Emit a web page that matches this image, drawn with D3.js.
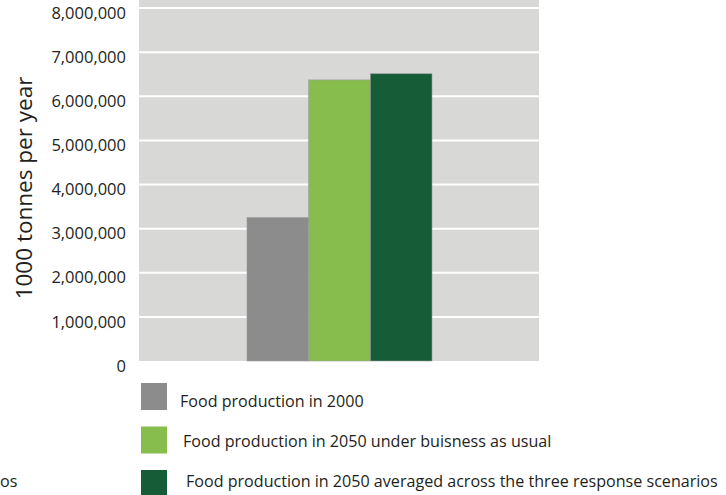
<!DOCTYPE html>
<html>
<head>
<meta charset="utf-8">
<script src="https://cdn.jsdelivr.net/npm/d3@7"></script>
<style>
  html, body { margin: 0; padding: 0; background: #fff; }
  svg { display: block; }
  text { font-family: "Open Sans", sans-serif; fill: #231f20; }
</style>
</head>
<body>
<svg id="chart" width="726" height="495"></svg>
<script>
// Food production series (1000 tonnes per year)
const seriesNames = [
  "Food production in 2000",
  "Food production in 2050 under buisness as usual",
  "Food production in 2050 averaged across the three response scenarios"
];
const seriesValues = [3250000, 6370000, 6510000];
const seriesColors = ["#8c8c8c", "#87bd4c", "#155c37"];
const yTicks = [0, 1000000, 2000000, 3000000, 4000000, 5000000, 6000000, 7000000, 8000000];
const yTitle = "1000 tonnes per year";

const svg = d3.select("#chart");
const plot = { left: 139, right: 539, top: 9, bottom: 361 };

const y = d3.scaleLinear().domain([0, 8000000]).range([plot.bottom, plot.top - 1]);
const x = d3.scaleBand().domain(seriesNames).range([247, 432]).padding(0);

// grey plot panel
svg.append("rect")
  .attr("x", plot.left).attr("y", 0)
  .attr("width", plot.right - plot.left).attr("height", plot.bottom)
  .attr("fill", "#d8d8d7");

// white horizontal gridlines
svg.append("g").selectAll("line")
  .data(yTicks.slice(1))
  .join("line")
  .attr("x1", plot.left).attr("x2", plot.right)
  .attr("y1", d => y(d)).attr("y2", d => y(d))
  .attr("stroke", "#ffffff").attr("stroke-width", 2);

// bars
svg.append("g").selectAll("rect")
  .data(seriesNames)
  .join("rect")
  .attr("x", d => x(d))
  .attr("width", x.bandwidth())
  .attr("y", (d, i) => y(seriesValues[i]))
  .attr("height", (d, i) => plot.bottom - y(seriesValues[i]))
  .attr("fill", (d, i) => seriesColors[i])
  .attr("stroke", "#9a9a9a")
  .attr("stroke-width", 0.6);

// y axis labels
const yAxis = d3.axisLeft(y)
  .tickValues(yTicks)
  .tickSize(0)
  .tickPadding(0)
  .tickFormat(d3.format(","));
const gy = svg.append("g")
  .attr("transform", `translate(${plot.left - 13},0)`)
  .call(yAxis);
gy.select(".domain").remove();
gy.selectAll(".tick text")
  .attr("dy", "0.62em")
  .style("font-family", "'Open Sans', sans-serif")
  .style("font-size", "16.5px")
  .attr("fill", "#231f20");

// y axis title
svg.append("text")
  .attr("transform", "translate(32,188) rotate(-90)")
  .attr("text-anchor", "middle")
  .style("font-size", "22.5px")
  .text(yTitle);

// legend: swatches and their captions
const legend = svg.append("g");
legend.selectAll("rect")
  .data(seriesNames)
  .join("rect")
  .attr("x", 141)
  .attr("y", (d, i) => 383 + i * 43.5)
  .attr("width", 26).attr("height", 27)
  .attr("fill", (d, i) => seriesColors[i]);
legend.selectAll("text")
  .data(seriesNames)
  .join("text")
  .attr("x", (d, i) => 180 + i * 3)
  .attr("y", (d, i) => 407 + i * 40)
  .style("font-size", "16.1px")
  .text(d => d);

// tail of a neighbouring caption at the left edge
svg.append("text")
  .attr("x", 0).attr("y", 487)
  .style("font-size", "16.1px")
  .text("os");
</script>
</body>
</html>
